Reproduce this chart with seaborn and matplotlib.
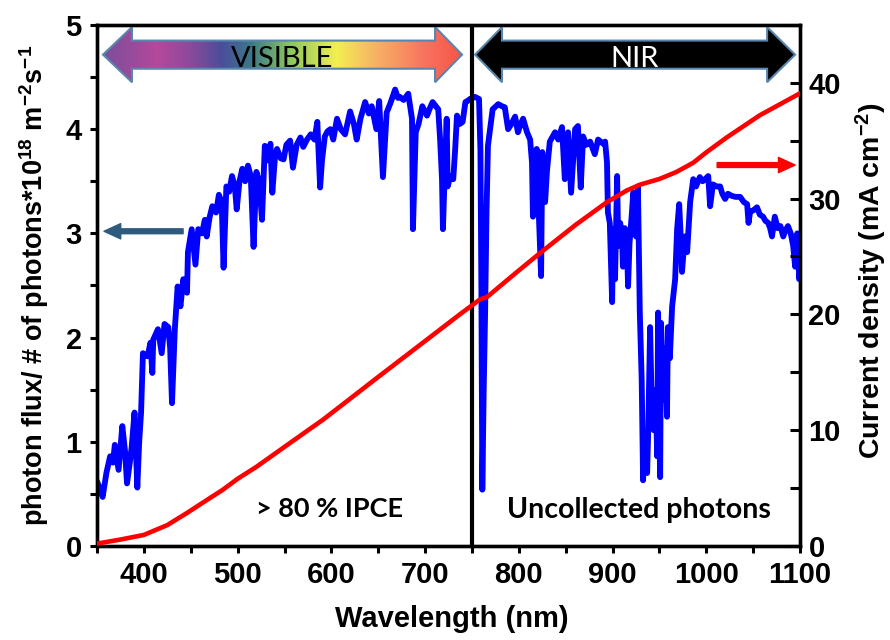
import numpy as np
import matplotlib
matplotlib.use("Agg")
import matplotlib.pyplot as plt
import seaborn as sns
from matplotlib.colors import LinearSegmentedColormap
from matplotlib.patches import Polygon
from matplotlib.ticker import MultipleLocator

# ---------------- data ----------------
wavelength_nm = [
    350, 353, 356, 360, 364, 367, 369, 373, 377, 380, 382, 385, 387, 390, 393, 395, 397, 399,
    404, 407, 409, 410, 415, 419, 422, 426, 428, 430, 433, 436, 439, 442, 446, 447, 451, 455,
    458, 462, 465, 467, 470, 473, 477, 480, 483, 485, 488, 491, 494, 497, 499, 502, 505, 508,
    511, 514, 517, 520, 523, 526, 529, 532, 535, 537, 540, 542, 546, 549, 552, 556, 559, 563,
    567, 570, 574, 578, 582, 585, 588, 590, 593, 596, 599, 602, 606, 610, 614.6, 617, 620, 624,
    627, 631, 636, 640, 643, 648, 651, 655, 659, 663, 668, 671, 673, 677, 682, 686, 687, 690,
    693, 697, 702, 705, 708, 714, 716, 718, 719, 721, 723, 724, 727, 730, 732, 734, 737, 740,
    743, 745, 748, 753, 757.5, 759, 760, 761, 762.5, 764, 765.5, 767, 772, 778, 782, 785, 788.5,
    792, 796, 799, 802, 804.5, 808.7, 812, 814, 815, 817, 819, 821.5, 823.7, 825, 828, 830, 833,
    838.6, 842, 846, 849, 852.5, 855.7, 860, 863, 866, 868.5, 872, 876, 881, 884.5, 890, 892,
    894, 895, 897, 899.5, 900.5, 902.6, 904.8, 906, 908, 910, 911, 913, 915, 916.5, 918, 920.6,
    922, 925, 927, 929, 931, 932.5, 934, 936.8, 938, 940, 942, 944, 946, 947.5, 948.5, 950,
    950.7, 951.7, 954, 956, 958, 959, 961, 963.5, 966.7, 968.8, 971, 972.5, 974, 977, 979.5,
    982.7, 986, 989, 993, 996, 998.7, 1002, 1004, 1007, 1011, 1014.7, 1017, 1020, 1023, 1027,
    1031, 1036, 1040, 1043.5, 1045, 1046.7, 1050, 1054, 1057, 1060.5, 1063, 1066, 1068, 1070,
    1073, 1076, 1079, 1082, 1084, 1087, 1090, 1092.6, 1094.7, 1097, 1099, 1100,
]
photon_flux = [
    0.62, 0.55, 0.47, 0.70, 0.86, 0.80, 0.97, 0.73, 1.15, 0.90, 0.60, 0.80, 0.95, 1.28, 0.56, 1.00, 1.28, 1.85,
    1.82, 1.95, 1.66, 1.98, 2.08, 1.85, 2.13, 2.10, 1.90, 1.37, 2.08, 2.49, 2.30, 2.56, 2.43, 2.82, 3.04, 2.70,
    3.04, 3.00, 3.13, 2.97, 3.15, 3.26, 3.20, 3.37, 3.30, 2.67, 3.45, 3.40, 3.55, 3.45, 3.23, 3.50, 3.62, 3.50,
    3.65, 3.55, 2.87, 3.59, 3.50, 3.13, 3.84, 3.70, 3.86, 3.39, 3.75, 3.81, 3.72, 3.71, 3.85, 3.89, 3.63, 3.85,
    3.92, 3.83, 3.90, 3.95, 3.90, 4.07, 3.44, 3.70, 3.93, 3.98, 4.00, 3.90, 4.10, 4.00, 3.95, 4.05, 4.17, 4.05,
    3.90, 4.10, 4.26, 4.15, 4.22, 4.00, 4.27, 3.54, 4.16, 4.25, 4.38, 4.30, 4.31, 4.28, 4.34, 4.10, 3.04, 3.97,
    4.05, 4.22, 4.13, 4.20, 4.26, 4.19, 3.90, 3.52, 3.04, 3.60, 4.10, 3.45, 3.55, 3.52, 3.80, 4.13, 4.05, 4.07,
    4.26, 4.27, 4.29, 4.31, 4.29, 3.80, 2.50, 0.54, 1.50, 2.24, 3.20, 3.84, 4.19, 4.24, 4.22, 4.21, 4.00,
    4.05, 4.12, 3.97, 4.05, 4.10, 3.97, 3.90, 3.68, 3.16, 3.50, 3.81, 3.13, 2.59, 3.78, 3.30, 3.60, 3.88,
    3.97, 3.90, 4.02, 3.52, 3.97, 3.39, 4.00, 4.03, 3.44, 3.93, 3.85, 3.88, 3.76, 3.90, 3.86, 3.88,
    3.68, 3.20, 3.10, 2.34, 3.04, 2.56, 3.55, 2.88, 3.10, 3.00, 2.68, 3.05, 2.97, 2.49, 2.90, 3.20,
    3.39, 2.97, 3.45, 2.24, 1.60, 0.63, 1.00, 0.70, 1.11, 2.10, 1.21, 1.11, 1.50, 0.86, 2.24, 1.30,
    0.66, 2.14, 1.40, 1.90, 1.24, 2.10, 1.80, 2.30, 2.56, 3.04, 3.28, 3.00, 2.63, 2.97, 2.82,
    3.30, 3.52, 3.45, 3.54, 3.50, 3.52, 3.55, 3.26, 3.47, 3.45, 3.45, 3.38, 3.33, 3.38, 3.36,
    3.35, 3.35, 3.30, 3.28, 3.10, 3.21, 3.22, 3.25, 3.18, 3.16, 3.12, 3.10, 3.05, 2.97,
    3.16, 3.05, 3.07, 2.97, 3.02, 3.07, 3.00, 2.88, 2.68, 3.00, 2.56, 2.70,
]

jsc_wavelength_nm = [350, 375, 400, 425, 446, 465, 484, 500, 520, 556, 591, 607, 650, 700, 737,
                     758.6, 766, 800, 822.6, 860, 894, 915, 929, 950, 968, 986, 1000, 1022, 1057, 1100]
current_density = [0.2, 0.55, 0.95, 1.8, 2.85, 3.85, 4.84, 5.8, 6.83, 8.9, 10.9, 11.9, 14.6, 17.7, 20.0,
                   21.3, 21.5, 23.8, 25.3, 27.7, 29.7, 30.7, 31.2, 31.7, 32.3, 33.1, 34.0, 35.3, 37.2, 39.1]

x_ticks = [400, 500, 600, 700, 800, 900, 1000, 1100]
x_tick_labels = ["400", "500", "600", "700", "800", "900", "1000", "1100"]
left_ticks = [0, 1, 2, 3, 4, 5]
left_tick_labels = ["0", "1", "2", "3", "4", "5"]
right_ticks = [0, 10, 20, 30, 40]
right_tick_labels = ["0", "10", "20", "30", "40"]

boundary_nm = 750
visible_label = "VISIBLE"
nir_label = "NIR"
ipce_label = "> 80 % IPCE"
uncollected_label = "Uncollected photons"

# ---------------- style ----------------
sns.set_theme(style="ticks")
plt.rcParams['font.family'] = ['Liberation Sans', 'DejaVu Sans']
plt.rcParams['mathtext.fontset'] = 'custom'
plt.rcParams['mathtext.rm'] = 'Liberation Sans'
plt.rcParams['mathtext.bf'] = 'Liberation Sans:bold'
plt.rcParams['mathtext.it'] = 'Liberation Sans:italic'
for k in ('text.color', 'axes.labelcolor', 'xtick.color', 'ytick.color', 'axes.edgecolor'):
    plt.rcParams[k] = 'black'

fig = plt.figure(figsize=(8.9, 6.4), dpi=100)
ax = fig.add_axes([0.109, 0.147, 0.79, 0.814])
ax2 = ax.twinx()

sns.lineplot(x=wavelength_nm, y=photon_flux, ax=ax, color='#0000ff', lw=4.2,
             estimator=None, sort=False, zorder=3)
sns.lineplot(x=jsc_wavelength_nm, y=current_density, ax=ax2, color='#ff0000', lw=3.3,
             estimator=None, sort=False, zorder=3)
ax.axvline(boundary_nm, color='black', lw=3.0, zorder=4)

ax.set_xlim(350, 1100)
ax.set_ylim(0, 5)
ax2.set_ylim(0, 45)

# ticks
ax.set_xticks(x_ticks)
ax.set_xticklabels(x_tick_labels, fontweight='bold')
ax.xaxis.set_minor_locator(MultipleLocator(50))
ax.set_yticks(left_ticks)
ax.set_yticklabels(left_tick_labels, fontweight='bold')
ax.yaxis.set_minor_locator(MultipleLocator(0.5))
ax2.set_yticks(right_ticks)
ax2.set_yticklabels(right_tick_labels, fontweight='bold')
ax2.yaxis.set_minor_locator(MultipleLocator(5))

ax.tick_params(axis='x', which='both', direction='out', length=5, width=2.2,
               top=False, labelsize=21, pad=6, colors='black')
ax.tick_params(axis='y', which='both', direction='out', length=5, width=2.2,
               right=False, labelsize=21, pad=6, colors='black')
ax2.tick_params(axis='y', which='both', direction='in', length=7, width=2.2,
                labelsize=21, pad=6, colors='black')
for a in (ax, ax2):
    for s in a.spines.values():
        s.set_linewidth(2.4)
        s.set_color('black')

ax.set_xlabel("Wavelength (nm)", fontsize=21, fontweight='bold', color='black')
ax.xaxis.set_label_coords(0.505, -0.114)
ax.set_ylabel(r"photon flux/ # of photons*10$^{\mathbf{18}}$ m$^{\mathbf{-2}}$s$^{\mathbf{-1}}$",
              fontsize=19.5, fontweight='bold', color='black')
ax.yaxis.set_label_coords(-0.066, 0.5)
ax2.set_ylabel(r"Current density (mA cm$^{\mathbf{-2}}$)", fontsize=20.5,
               fontweight='bold', color='black')
ax2.yaxis.set_label_coords(1.077, 0.51)

# ---------------- top region arrows ----------------
def arrow_vertices(x0, x1, xh0, xh1, yc, body, head):
    return [(x0, yc), (xh0, yc + head), (xh0, yc + body), (xh1, yc + body), (xh1, yc + head),
            (x1, yc), (xh1, yc - head), (xh1, yc - body), (xh0, yc - body), (xh0, yc - head)]

yc, body, head = 4.715, 0.135, 0.265
edge = '#5a86ad'

vis = arrow_vertices(356.4, 739.4, 387.3, 710.6, yc, body, head)
vis_cmap = LinearSegmentedColormap.from_list("vis", [
    (0.00, '#7a4f9b'), (0.15, '#b5489b'), (0.24, '#8c4a9c'), (0.33, '#4a4e9a'),
    (0.41, '#3b7888'), (0.52, '#8cc65e'), (0.65, '#f3ef50'), (0.75, '#f6b765'),
    (0.89, '#f87560'), (1.00, '#f65446')])
grad = np.linspace(0, 1, 600).reshape(1, -1)
im = ax.imshow(grad, extent=[356.4, 739.4, yc - head, yc + head], aspect='auto',
               cmap=vis_cmap, zorder=5, interpolation='bilinear')
vis_patch = Polygon(vis, closed=True, facecolor='none', edgecolor=edge, lw=1.5, zorder=6)
ax.add_patch(vis_patch)
im.set_clip_path(vis_patch)

nir = arrow_vertices(753.3, 1094.7, 782.0, 1064.8, yc, body, head)
ax.add_patch(Polygon(nir, closed=True, facecolor='black', edgecolor=edge, lw=1.5, zorder=6))

ax.set_xlim(350, 1100)
ax.set_ylim(0, 5)

ax.text(547.9, 4.60, visible_label, family=['Lato', 'DejaVu Sans'], fontsize=21,
        color='black', ha='center', va='baseline', zorder=7)
ax.text(922.9, 4.60, nir_label, family=['Lato', 'DejaVu Sans'], fontsize=21,
        color='white', ha='center', va='baseline', zorder=7)

ax.text(597.5, 0.28, ipce_label, family=['Lato', 'DejaVu Sans'], fontsize=19.5,
        fontweight='bold', color='black', ha='center', va='baseline', zorder=7)
ax.text(928.3, 0.27, uncollected_label, family=['Lato', 'DejaVu Sans'], fontsize=20.5,
        fontweight='bold', color='black', ha='center', va='baseline', zorder=7)

# axis-pointer arrows
ax.annotate('', xy=(357.5, 3.02), xytext=(441.8, 3.02),
            arrowprops=dict(facecolor='#2e5a7e', edgecolor='#2e5a7e', width=3.5,
                            headwidth=11, headlength=12, shrink=0), zorder=7)
ax2.annotate('', xy=(1094.7, 32.9), xytext=(1011.5, 32.9),
             arrowprops=dict(facecolor='#ff0000', edgecolor='#ff0000', width=3.5,
                             headwidth=11, headlength=12, shrink=0), zorder=7)

fig.savefig("out.png", dpi=100)
